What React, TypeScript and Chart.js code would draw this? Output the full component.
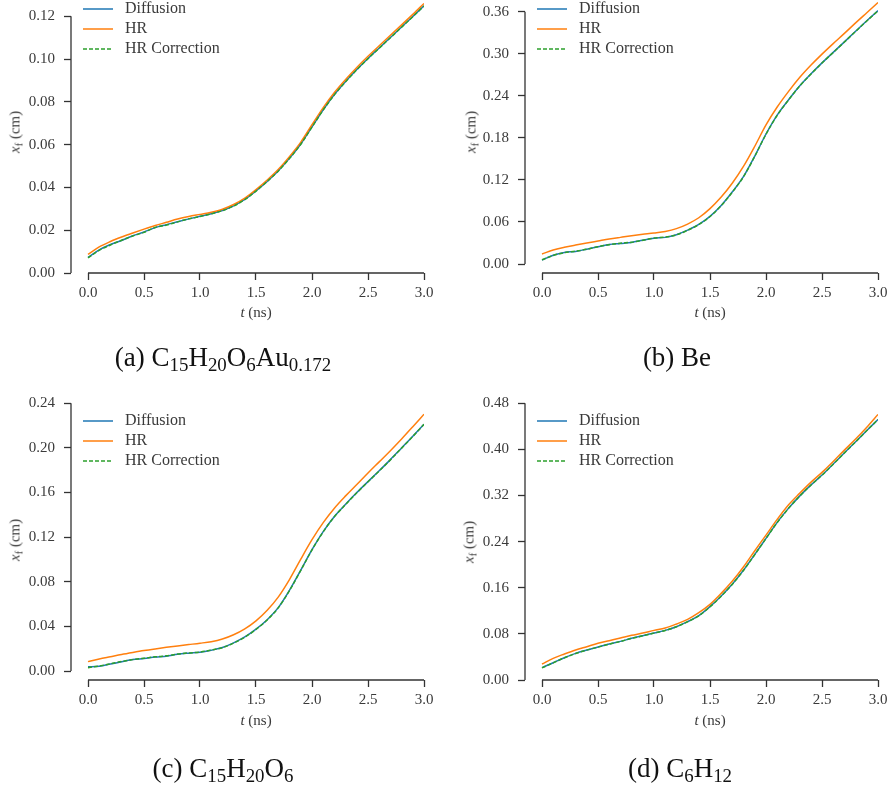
import React, { useEffect, useRef } from 'react';
import { Chart, registerables } from 'chart.js';
Chart.register(...registerables);

// ---------------- data ----------------
const TIME = [0.0, 0.1, 0.2, 0.3, 0.4, 0.5, 0.6, 0.7, 0.8, 0.9, 1.0, 1.1, 1.2, 1.3, 1.4, 1.5, 1.6, 1.7, 1.8, 1.9, 2.0, 2.1, 2.2, 2.3, 2.4, 2.5, 2.6, 2.7, 2.8, 2.9, 3.0];
const X_TICKS = [0, 0.5, 1.0, 1.5, 2.0, 2.5, 3.0];
const SERIES_LABELS = ['Diffusion', 'HR', 'HR Correction'];

// (a) C15H20O6Au0.172
const A_Y_TICKS = [0, 0.02, 0.04, 0.06, 0.08, 0.10, 0.12];
const A_DIFF = [0.0073, 0.0108, 0.0133, 0.0152, 0.0174, 0.0192, 0.0212, 0.0226, 0.0240, 0.0253, 0.0265, 0.0277, 0.0292, 0.0314, 0.0344, 0.0384, 0.0428, 0.0478, 0.0537, 0.0603, 0.0683, 0.0763, 0.0834, 0.0895, 0.0951, 0.1003, 0.1052, 0.1101, 0.1150, 0.1199, 0.1249];
const A_HR = [0.0087, 0.0122, 0.0147, 0.0168, 0.0187, 0.0205, 0.0222, 0.0237, 0.0252, 0.0264, 0.0274, 0.0284, 0.0298, 0.0320, 0.0350, 0.0390, 0.0435, 0.0485, 0.0545, 0.0612, 0.0693, 0.0773, 0.0844, 0.0905, 0.0961, 0.1013, 0.1062, 0.1111, 0.1160, 0.1209, 0.1260];
const A_CORR = [0.0071, 0.0106, 0.0131, 0.0153, 0.0173, 0.0190, 0.0213, 0.0224, 0.0239, 0.0253, 0.0264, 0.0277, 0.0291, 0.0313, 0.0343, 0.0383, 0.0428, 0.0477, 0.0536, 0.0602, 0.0682, 0.0762, 0.0833, 0.0894, 0.0950, 0.1002, 0.1051, 0.1100, 0.1149, 0.1198, 0.1248];

// (b) Be
const B_Y_TICKS = [0, 0.06, 0.12, 0.18, 0.24, 0.30, 0.36];
const B_DIFF = [0.0057, 0.0125, 0.0165, 0.0180, 0.0212, 0.0245, 0.0278, 0.0293, 0.0308, 0.0340, 0.0368, 0.0380, 0.0418, 0.0483, 0.0565, 0.0680, 0.0835, 0.1030, 0.1250, 0.1540, 0.1855, 0.2125, 0.2340, 0.2540, 0.2710, 0.2870, 0.3020, 0.3170, 0.3320, 0.3470, 0.3615];
const B_HR = [0.0143, 0.0200, 0.0238, 0.0270, 0.0300, 0.0328, 0.0356, 0.0380, 0.0403, 0.0423, 0.0442, 0.0465, 0.0505, 0.0570, 0.0660, 0.0790, 0.0955, 0.1155, 0.1395, 0.1680, 0.1985, 0.2240, 0.2460, 0.2660, 0.2835, 0.2995, 0.3145, 0.3290, 0.3440, 0.3585, 0.3730];
const B_CORR = [0.0060, 0.0122, 0.0162, 0.0183, 0.0210, 0.0247, 0.0275, 0.0296, 0.0311, 0.0338, 0.0371, 0.0383, 0.0416, 0.0481, 0.0563, 0.0678, 0.0833, 0.1027, 0.1248, 0.1537, 0.1852, 0.2122, 0.2338, 0.2538, 0.2708, 0.2868, 0.3018, 0.3168, 0.3318, 0.3468, 0.3613];

// (c) C15H20O6
const C_Y_TICKS = [0, 0.04, 0.08, 0.12, 0.16, 0.20, 0.24];
const C_DIFF = [0.0038, 0.0042, 0.0062, 0.0083, 0.0103, 0.0112, 0.0125, 0.0133, 0.0150, 0.0160, 0.0168, 0.0186, 0.0210, 0.0252, 0.0305, 0.0375, 0.0460, 0.0570, 0.0725, 0.0905, 0.1088, 0.1250, 0.1385, 0.1495, 0.1600, 0.1698, 0.1795, 0.1895, 0.2000, 0.2105, 0.2213];
const C_HR = [0.0084, 0.0108, 0.0128, 0.0148, 0.0166, 0.0183, 0.0198, 0.0212, 0.0225, 0.0237, 0.0249, 0.0263, 0.0287, 0.0325, 0.0378, 0.0450, 0.0545, 0.0665, 0.0822, 0.1003, 0.1177, 0.1330, 0.1460, 0.1570, 0.1672, 0.1775, 0.1875, 0.1975, 0.2080, 0.2190, 0.2302];
const C_CORR = [0.0030, 0.0045, 0.0064, 0.0085, 0.0102, 0.0114, 0.0127, 0.0136, 0.0152, 0.0162, 0.0170, 0.0188, 0.0209, 0.0250, 0.0303, 0.0373, 0.0458, 0.0568, 0.0723, 0.0903, 0.1086, 0.1248, 0.1383, 0.1493, 0.1598, 0.1696, 0.1793, 0.1893, 0.1998, 0.2103, 0.2211];

// (d) C6H12
const D_Y_TICKS = [0, 0.08, 0.16, 0.24, 0.32, 0.40, 0.48];
const D_DIFF = [0.0214, 0.0300, 0.0387, 0.0462, 0.0520, 0.0572, 0.0624, 0.0670, 0.0723, 0.0769, 0.0815, 0.0861, 0.0925, 0.1012, 0.1116, 0.1272, 0.1457, 0.1665, 0.1907, 0.2179, 0.2457, 0.2734, 0.2977, 0.3190, 0.3381, 0.3555, 0.3746, 0.3942, 0.4133, 0.4329, 0.4520];
const D_HR = [0.0277, 0.0376, 0.0451, 0.0520, 0.0578, 0.0636, 0.0682, 0.0728, 0.0775, 0.0815, 0.0861, 0.0902, 0.0971, 0.1052, 0.1168, 0.1312, 0.1503, 0.1717, 0.1965, 0.2243, 0.2514, 0.2786, 0.3035, 0.3237, 0.3428, 0.3601, 0.3792, 0.3988, 0.4180, 0.4386, 0.4607];
const D_CORR = [0.0210, 0.0298, 0.0385, 0.0460, 0.0518, 0.0570, 0.0622, 0.0669, 0.0721, 0.0767, 0.0813, 0.0859, 0.0923, 0.1010, 0.1114, 0.1270, 0.1455, 0.1663, 0.1905, 0.2177, 0.2455, 0.2732, 0.2975, 0.3188, 0.3379, 0.3553, 0.3744, 0.3940, 0.4131, 0.4327, 0.4518];

// ---------------- styles ----------------
const COLORS = ['#1f77b4', '#ff7f0e', '#2ca02c'];
const DASHES: number[][] = [[], [], [4, 2]];
const DRAW_ORDER = [3, 2, 1]; // lower order is drawn on top
const AXIS_COLOR = '#333333';
const TEXT_COLOR = '#3a3a3a';
const FONT_FAMILY = '"Liberation Serif", "Times New Roman", serif';
const TICK_FONT_SIZE = 15;
const LEGEND_FONT_SIZE = 16;
const X_AXIS_H = 36;

type PanelGeom = {
  key: string;
  left: number; top: number; width: number;
  spineX: number; x0: number; x3: number;
  yZero: number; yTopPx: number;
  xSpineY: number;
  legendY: number;
  xTitle: [number, number];
  yTitle: [number, number];
  caption: [number, number];
};

function Sub({ children }: { children: React.ReactNode }) {
  return <sub style={{ fontSize: '0.7em', verticalAlign: '-0.3em', lineHeight: 0 }}>{children}</sub>;
}

const PANELS: { geom: PanelGeom; yTicks: number[]; series: number[][]; caption: React.ReactNode }[] = [
  {
    geom: { key: 'a', left: 0, top: 0, width: 445, spineX: 71, x0: 88, x3: 424, yZero: 273.3, yTopPx: 16.3, xSpineY: 273.3, legendY: 9, xTitle: [256, 312], yTitle: [15, 132], caption: [223, 357] },
    yTicks: A_Y_TICKS, series: [A_DIFF, A_HR, A_CORR],
    caption: (<>(a) C<Sub>15</Sub>H<Sub>20</Sub>O<Sub>6</Sub>Au<Sub>0.172</Sub></>),
  },
  {
    geom: { key: 'b', left: 445, top: 0, width: 445, spineX: 525, x0: 542, x3: 878, yZero: 264, yTopPx: 11.7, xSpineY: 273, legendY: 9, xTitle: [710, 312], yTitle: [471, 132], caption: [677, 357] },
    yTicks: B_Y_TICKS, series: [B_DIFF, B_HR, B_CORR],
    caption: (<>(b) Be</>),
  },
  {
    geom: { key: 'c', left: 0, top: 390, width: 445, spineX: 71, x0: 88, x3: 424, yZero: 671, yTopPx: 403.3, xSpineY: 680, legendY: 421, xTitle: [256, 720], yTitle: [15, 540], caption: [223, 768] },
    yTicks: C_Y_TICKS, series: [C_DIFF, C_HR, C_CORR],
    caption: (<>(c) C<Sub>15</Sub>H<Sub>20</Sub>O<Sub>6</Sub></>),
  },
  {
    geom: { key: 'd', left: 445, top: 390, width: 445, spineX: 525, x0: 542, x3: 878, yZero: 680, yTopPx: 403.3, xSpineY: 680, legendY: 421, xTitle: [710, 720], yTitle: [469, 542], caption: [680, 768] },
    yTicks: D_Y_TICKS, series: [D_DIFF, D_HR, D_CORR],
    caption: (<>(d) C<Sub>6</Sub>H<Sub>12</Sub></>),
  },
];

function Panel({ geom, yTicks, series, caption }: { geom: PanelGeom; yTicks: number[]; series: number[][]; caption: React.ReactNode }) {
  const ref = useRef<HTMLCanvasElement | null>(null);
  const canvasH = geom.xSpineY - geom.top + X_AXIS_H;

  useEffect(() => {
    if (!ref.current) return;
    const g = geom;
    const xLast = X_TICKS[X_TICKS.length - 1];
    const pxPerX = (g.x3 - g.x0) / (xLast - X_TICKS[0]);
    const xMin = X_TICKS[0] - (g.x0 - g.spineX) / pxPerX;
    const yTop = yTicks[yTicks.length - 1];
    const pxPerY = (g.yZero - g.yTopPx) / (yTop - yTicks[0]);
    const yMin = yTicks[0] - (g.xSpineY - g.yZero) / pxPerY;
    const yMax = yTop + (g.yTopPx - g.top) / pxPerY;
    const padRight = g.width - (g.x3 - g.left);

    const decor = {
      id: 'decor' + g.key,
      afterDatasetsDraw(chart: any) {
        const { ctx, chartArea, scales } = chart;
        const xs = scales.x, ys = scales.y;
        ctx.save();
        ctx.strokeStyle = AXIS_COLOR;
        ctx.lineWidth = 1.3;
        ctx.setLineDash([]);
        ctx.beginPath();
        ctx.moveTo(chartArea.left, ys.getPixelForValue(yTicks[0]));
        ctx.lineTo(chartArea.left, ys.getPixelForValue(yTop));
        ctx.moveTo(xs.getPixelForValue(X_TICKS[0]), chartArea.bottom);
        ctx.lineTo(xs.getPixelForValue(xLast), chartArea.bottom);
        ctx.stroke();
        // legend
        const lx = g.spineX - g.left + 12;
        chart.data.datasets.forEach((ds: any, i: number) => {
          const ly = g.legendY - g.top + i * 20;
          ctx.strokeStyle = ds.borderColor;
          ctx.lineWidth = 1.5;
          ctx.setLineDash(ds.borderDash || []);
          ctx.beginPath();
          ctx.moveTo(lx, ly);
          ctx.lineTo(lx + 30, ly);
          ctx.stroke();
          ctx.setLineDash([]);
          ctx.fillStyle = TEXT_COLOR;
          ctx.font = `${LEGEND_FONT_SIZE}px ${FONT_FAMILY}`;
          ctx.textBaseline = 'middle';
          ctx.textAlign = 'left';
          ctx.fillText(ds.label, lx + 42, ly);
        });
        ctx.restore();
      },
    };

    const tickFont = { family: FONT_FAMILY, size: TICK_FONT_SIZE };
    const chart = new Chart(ref.current, {
      type: 'line',
      data: {
        datasets: series.map((vals, i) => ({
          label: SERIES_LABELS[i],
          data: TIME.map((t, j) => ({ x: t, y: vals[j] })),
          borderColor: COLORS[i],
          backgroundColor: COLORS[i],
          borderDash: DASHES[i],
          borderWidth: 1.5,
          pointRadius: 0,
          fill: false,
          order: DRAW_ORDER[i],
          cubicInterpolationMode: 'monotone',
        })),
      },
      options: {
        responsive: false,
        animation: false,
        devicePixelRatio: 1,
        layout: { padding: { left: 0, top: 0, right: padRight, bottom: 0 } },
        plugins: { legend: { display: false }, tooltip: { enabled: false } },
        scales: {
          x: {
            type: 'linear',
            min: xMin,
            max: xLast,
            bounds: 'data',
            afterBuildTicks: (s: any) => { s.ticks = X_TICKS.map((v) => ({ value: v })); },
            afterFit: (s: any) => { s.height = X_AXIS_H; s.paddingLeft = 0; s.paddingRight = 0; },
            ticks: { callback: (v: any) => Number(v).toFixed(1), font: tickFont, color: TEXT_COLOR, padding: 4, maxRotation: 0, autoSkip: false },
            grid: { display: true, drawOnChartArea: false, drawTicks: true, tickLength: 7, tickWidth: 1.3, tickColor: AXIS_COLOR },
            border: { display: false },
          },
          y: {
            type: 'linear',
            min: yMin,
            max: yMax,
            bounds: 'data',
            afterBuildTicks: (s: any) => { s.ticks = yTicks.map((v) => ({ value: v })); },
            afterFit: (s: any) => { s.width = g.spineX - g.left; s.paddingTop = 0; s.paddingBottom = 0; },
            ticks: { callback: (v: any) => Number(v).toFixed(2), font: tickFont, color: TEXT_COLOR, padding: 9, autoSkip: false },
            grid: { display: true, drawOnChartArea: false, drawTicks: true, tickLength: 7, tickWidth: 1.3, tickColor: AXIS_COLOR },
            border: { display: false },
          },
        },
      } as any,
      plugins: [decor],
    } as any);
    return () => chart.destroy();
  }, []);

  const textBase: React.CSSProperties = { position: 'absolute', whiteSpace: 'nowrap', lineHeight: 1, color: TEXT_COLOR, fontFamily: FONT_FAMILY };
  return (
    <>
      <canvas
        ref={ref}
        width={geom.width}
        height={canvasH}
        style={{ position: 'absolute', left: geom.left, top: geom.top, width: geom.width, height: canvasH, display: 'block' }}
      />
      <div style={{ ...textBase, left: geom.xTitle[0], top: geom.xTitle[1], transform: 'translate(-50%, -50%)', fontSize: 15 }}>
        <i>t</i> (ns)
      </div>
      <div style={{ ...textBase, left: geom.yTitle[0], top: geom.yTitle[1], transform: 'translate(-50%, -50%) rotate(-90deg)', fontSize: 15 }}>
        <i>x</i><sub style={{ fontSize: '0.7em', verticalAlign: '-0.25em', lineHeight: 0 }}>f</sub> (cm)
      </div>
      <div style={{ ...textBase, left: geom.caption[0], top: geom.caption[1], transform: 'translate(-50%, -50%)', fontSize: 27, color: '#111' }}>
        {caption}
      </div>
    </>
  );
}

export default function App() {
  return (
    <div style={{ position: 'absolute', left: 0, top: 0, width: 890, height: 785, background: '#ffffff', overflow: 'hidden' }}>
      {PANELS.map((p) => (
        <Panel key={p.geom.key} geom={p.geom} yTicks={p.yTicks} series={p.series} caption={p.caption} />
      ))}
    </div>
  );
}
